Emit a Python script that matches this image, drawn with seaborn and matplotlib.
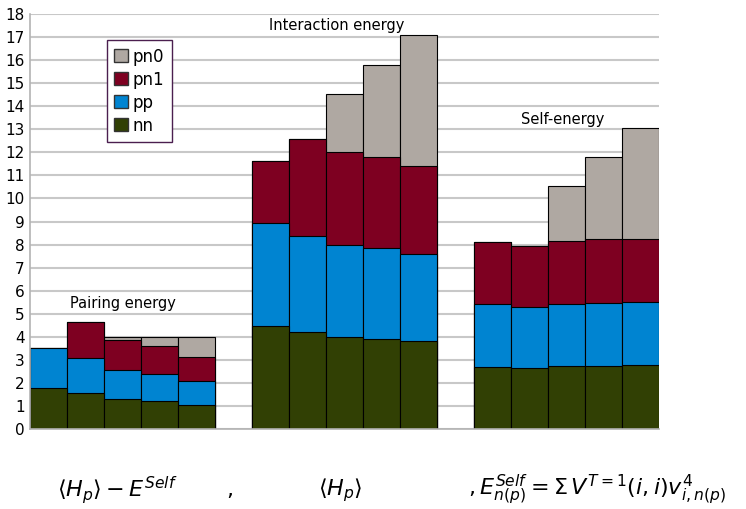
import numpy as np
import pandas as pd
import matplotlib
matplotlib.use("Agg")
import matplotlib.pyplot as plt
from matplotlib.patches import Patch
import seaborn as sns

# bar slots: 3 groups of 5, one empty slot between groups
slots = ["p1", "p2", "p3", "p4", "p5", "g1",
         "i1", "i2", "i3", "i4", "i5", "g2",
         "s1", "s2", "s3", "s4", "s5"]
bars = ["p1", "p2", "p3", "p4", "p5",
        "i1", "i2", "i3", "i4", "i5",
        "s1", "s2", "s3", "s4", "s5"]

# component values (pairing, interaction, self-energy)
nn = [1.77, 1.55, 1.29, 1.20, 1.03,
      4.46, 4.19, 4.00, 3.91, 3.81,
      2.71, 2.65, 2.74, 2.75, 2.78]
pp = [1.74, 1.54, 1.29, 1.19, 1.04,
      4.47, 4.19, 4.00, 3.95, 3.77,
      2.71, 2.63, 2.69, 2.73, 2.74]
pn1 = [0.00, 1.56, 1.28, 1.20, 1.05,
       2.71, 4.19, 4.00, 3.92, 3.81,
       2.71, 2.65, 2.74, 2.74, 2.74]
pn0 = [0.00, 0.00, 0.15, 0.40, 0.87,
       0.00, 0.00, 2.54, 3.99, 5.68,
       0.00, 0.00, 2.37, 3.56, 4.81]

series = ["nn", "pp", "pn1", "pn0"]
colors = {"nn": "#314004", "pp": "#0084d1", "pn1": "#7e0021", "pn0": "#afa8a2"}

df = pd.DataFrame({"bar": bars, "nn": nn, "pp": pp, "pn1": pn1, "pn0": pn0})
cum = df[series].cumsum(axis=1)

plt.rcParams["mathtext.fontset"] = "dejavusans"
fig = plt.figure(figsize=(7.46, 5.09), dpi=100)
ax = fig.add_axes([30 / 746, 80 / 509, 629 / 746, 415 / 509])

# draw cumulative layers from the top down so each one covers the one above
for s in reversed(series):
    sns.barplot(x=df["bar"], y=cum[s], order=slots, color=colors[s],
                saturation=1, width=1, errorbar=None,
                edgecolor="black", linewidth=0.8, ax=ax)

ax.set_xlim(-0.5, 16.5)
ax.set_ylim(0, 18)
ax.set_yticks(range(0, 19))
ax.set_xticks([])
ax.set_xlabel("")
ax.set_ylabel("")
ax.tick_params(axis="y", length=0, labelsize=11, pad=4)
ax.grid(axis="y", color="#c8c8c8", linewidth=1.5)
ax.set_axisbelow(True)
for side in ["top", "right"]:
    ax.spines[side].set_visible(False)
for side in ["left", "bottom"]:
    ax.spines[side].set_color("#b3b3b3")
    ax.spines[side].set_linewidth(1.2)

ax.text(2.0, 5.46, "Pairing energy", ha="center", va="center", fontsize=10.5)
ax.text(7.8, 17.5, "Interaction energy", ha="center", va="center", fontsize=10.5)
ax.text(13.9, 13.44, "Self-energy", ha="center", va="center", fontsize=10.5)

handles = [Patch(facecolor=colors[s], edgecolor="#333333", label=s)
           for s in reversed(series)]
leg = ax.legend(handles=handles, loc="upper left", bbox_to_anchor=(0.122, 0.937),
                borderaxespad=0, fontsize=12, fancybox=False, framealpha=1,
                handlelength=0.8, handleheight=0.8, handletextpad=0.3,
                labelspacing=0.3, borderpad=0.45)
leg.get_frame().set_edgecolor("#4b1f4f")
leg.get_frame().set_linewidth(1.0)

fig.text(0.157, 0.037, r"$\langle H_p\rangle - E^{Self}$", ha="center", va="center", fontsize=16)
fig.text(0.308, 0.037, ",", ha="center", va="center", fontsize=16)
fig.text(0.456, 0.037, r"$\langle H_p\rangle$", ha="center", va="center", fontsize=16)
fig.text(0.628, 0.037, r"$,E^{Self}_{n(p)} = \Sigma\, V^{T=1}(i,i) v^4_{i,n(p)}$",
         ha="left", va="center", fontsize=16)

fig.savefig("out.png", dpi=100)
